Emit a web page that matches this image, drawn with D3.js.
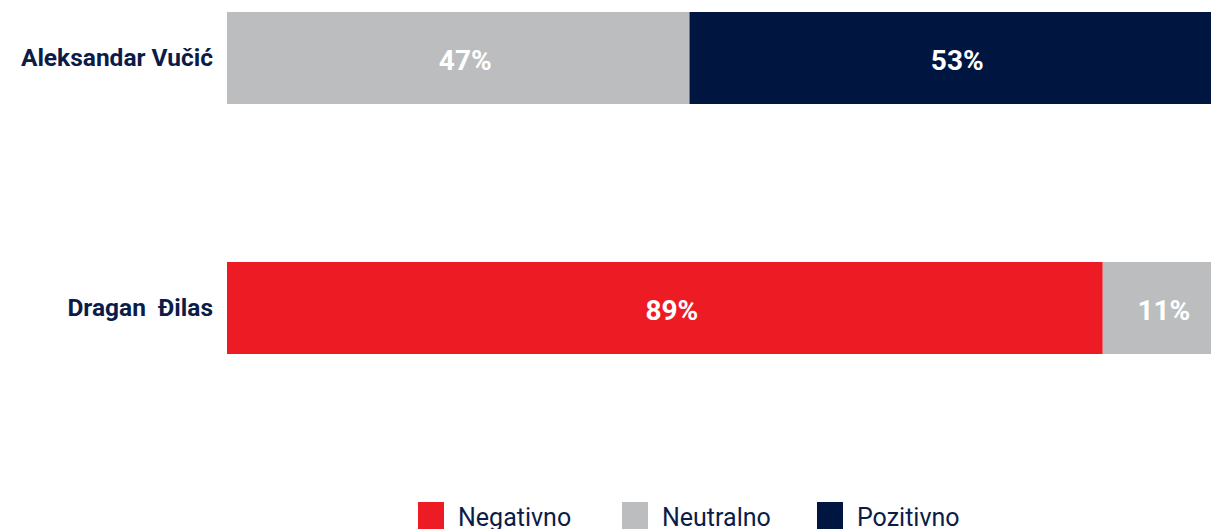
<!DOCTYPE html>
<html><head><meta charset="utf-8">
<script src="https://cdn.jsdelivr.net/npm/d3@7"></script>
<style>
html,body{margin:0;padding:0;background:#fff;}
svg{display:block;font-family:Roboto,"Noto Sans",sans-serif;}
</style></head>
<body><svg id="c" width="1211" height="529"></svg>
<script>
const categories = ["Aleksandar Vučić", "Dragan  Đilas"];
const seriesNames = ["Negativno", "Neutralno", "Pozitivno"];
const negativno = [0, 89];
const neutralno = [47, 11];
const pozitivno = [53, 0];
const colors = ["#ed1c24", "#bcbdbf", "#001641"];

const svg = d3.select("#c");
const x = d3.scaleLinear().domain([0, 100]).range([227, 1211]);
const y = d3.scaleBand().domain(categories).range([12, 354]).paddingInner(0.632).paddingOuter(0);

const rows = categories.map((c, i) => ({cat: c, Negativno: negativno[i], Neutralno: neutralno[i], Pozitivno: pozitivno[i]}));
const stack = d3.stack().keys(seriesNames)(rows);

const g = svg.append("g");
stack.forEach((s, si) => {
  s.forEach(d => {
    const v = d[1] - d[0];
    if (v <= 0) return;
    g.append("rect")
      .attr("x", x(d[0])).attr("y", y(d.data.cat))
      .attr("width", x(d[1]) - x(d[0])).attr("height", y.bandwidth())
      .attr("fill", colors[si]);
    g.append("text")
      .attr("x", (x(d[0]) + x(d[1])) / 2 + 7)
      .attr("y", y(d.data.cat) + y.bandwidth() / 2 + 12)
      .attr("text-anchor", "middle")
      .attr("fill", "#fff")
      .attr("font-weight", 700)
      .attr("font-size", 28)
      .text(v + "%");
  });
});

// category labels
svg.append("g").selectAll("text").data(categories).join("text")
  .attr("x", 213)
  .attr("y", d => y(d) + y.bandwidth() / 2 + 8)
  .attr("text-anchor", "end")
  .attr("fill", "#0b1c48")
  .attr("font-weight", 700)
  .attr("font-size", 24.5)
  .attr("xml:space", "preserve")
  .text(d => d);

// legend
const legX = [418, 622, 817];
const leg = svg.append("g");
seriesNames.forEach((n, i) => {
  leg.append("rect").attr("x", legX[i]).attr("y", 502).attr("width", 26).attr("height", 27).attr("fill", colors[i]);
  leg.append("text").attr("x", legX[i] + 40).attr("y", 526)
    .attr("fill", "#0b1c48").attr("font-size", 25).text(n);
});
</script>
</body></html>
